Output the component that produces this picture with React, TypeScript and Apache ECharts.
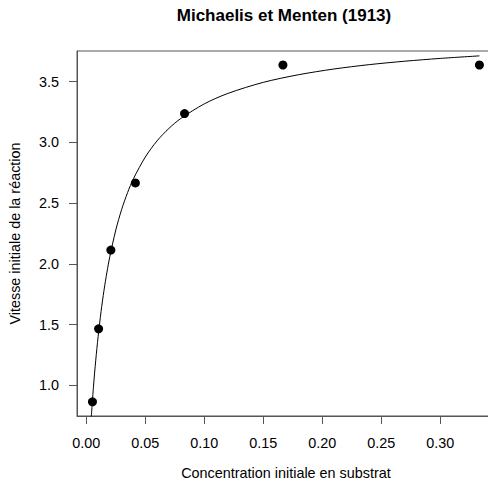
import React, { useEffect, useRef } from "react";
import * as echarts from "echarts";

const concentration = [0.3333, 0.1667, 0.0833, 0.0416, 0.0208, 0.0104, 0.0052];
const velocity = [3.636, 3.636, 3.236, 2.666, 2.114, 1.466, 0.866];

// fitted curve
const curveX = [0.004, 0.006, 0.008, 0.01, 0.0125, 0.015, 0.0175, 0.02, 0.025, 0.03, 0.035, 0.04, 0.05, 0.06, 0.07, 0.08, 0.1, 0.12, 0.15, 0.18, 0.21, 0.24, 0.27, 0.3, 0.3333];
const curveY = [0.714, 0.982, 1.208, 1.401, 1.608, 1.783, 1.933, 2.063, 2.279, 2.449, 2.587, 2.701, 2.879, 3.012, 3.114, 3.195, 3.316, 3.402, 3.493, 3.556, 3.603, 3.639, 3.667, 3.69, 3.711];

const xTicks = [0.0, 0.05, 0.1, 0.15, 0.2, 0.25, 0.3];
const yTicks = [1.0, 1.5, 2.0, 2.5, 3.0, 3.5];

const FONT = "'Liberation Sans', Arial, Helvetica, sans-serif";

export default function App() {
  const ref = useRef<HTMLDivElement>(null);
  useEffect(() => {
    document.body.style.margin = "0";
    if (!ref.current) return;
    const chart = echarts.init(ref.current, undefined, { renderer: "svg" });
    const axisColor = "#555";
    chart.setOption({
      animation: false,
      backgroundColor: "#fff",
      textStyle: { fontFamily: FONT },
      title: {
        text: "Michaelis et Menten (1913)",
        left: 284,
        textAlign: "center",
        top: 7,
        padding: 0,
        textStyle: { fontFamily: FONT, fontSize: 17, fontWeight: "bold", color: "#000" },
      },
      grid: {
        left: 76,
        top: 51,
        right: 5,
        bottom: 68,
        show: true,
        borderColor: axisColor,
        borderWidth: 1,
        containLabel: false,
      },
      xAxis: {
        type: "value",
        min: -0.0079,
        max: 0.3465,
        name: "Concentration initiale en substrat",
        nameLocation: "middle",
        nameGap: 50,
        nameTextStyle: { fontFamily: FONT, fontSize: 14.4, color: "#000" },
        axisLine: { show: true, onZero: false, lineStyle: { color: axisColor, width: 1 } },
        axisTick: { show: true, length: 8, lineStyle: { color: axisColor }, customValues: xTicks },
        axisLabel: {
          show: true,
          margin: 20,
          fontFamily: FONT,
          fontSize: 14.4,
          color: "#000",
          customValues: xTicks,
          formatter: (v: number) => v.toFixed(2),
        },
        splitLine: { show: false },
      },
      yAxis: {
        type: "value",
        min: 0.749,
        max: 3.751,
        name: "Vitesse initiale de la réaction",
        nameLocation: "middle",
        nameGap: 55,
        nameTextStyle: { fontFamily: FONT, fontSize: 14.4, color: "#000" },
        axisLine: { show: true, onZero: false, lineStyle: { color: axisColor, width: 1 } },
        axisTick: { show: true, length: 8, lineStyle: { color: axisColor }, customValues: yTicks },
        axisLabel: {
          show: true,
          margin: 18,
          fontFamily: FONT,
          fontSize: 14.4,
          color: "#000",
          customValues: yTicks,
          formatter: (v: number) => v.toFixed(1),
        },
        splitLine: { show: false },
      },
      series: [
        {
          type: "line",
          data: curveX.map((x, i) => [x, curveY[i]]),
          showSymbol: false,
          symbol: "none",
          clip: true,
          smooth: 0.3,
          lineStyle: { color: "#000", width: 1 },
          silent: true,
        },
        {
          type: "scatter",
          data: concentration.map((x, i) => [x, velocity[i]]),
          symbol: "circle",
          symbolSize: 9,
          itemStyle: { color: "#000", opacity: 1 },
        },
      ],
    });
    return () => chart.dispose();
  }, []);
  return (
    <div style={{ width: 488, height: 485, overflow: "hidden", position: "relative" }}>
      <div ref={ref} style={{ width: 500, height: 485 }} />
    </div>
  );
}
